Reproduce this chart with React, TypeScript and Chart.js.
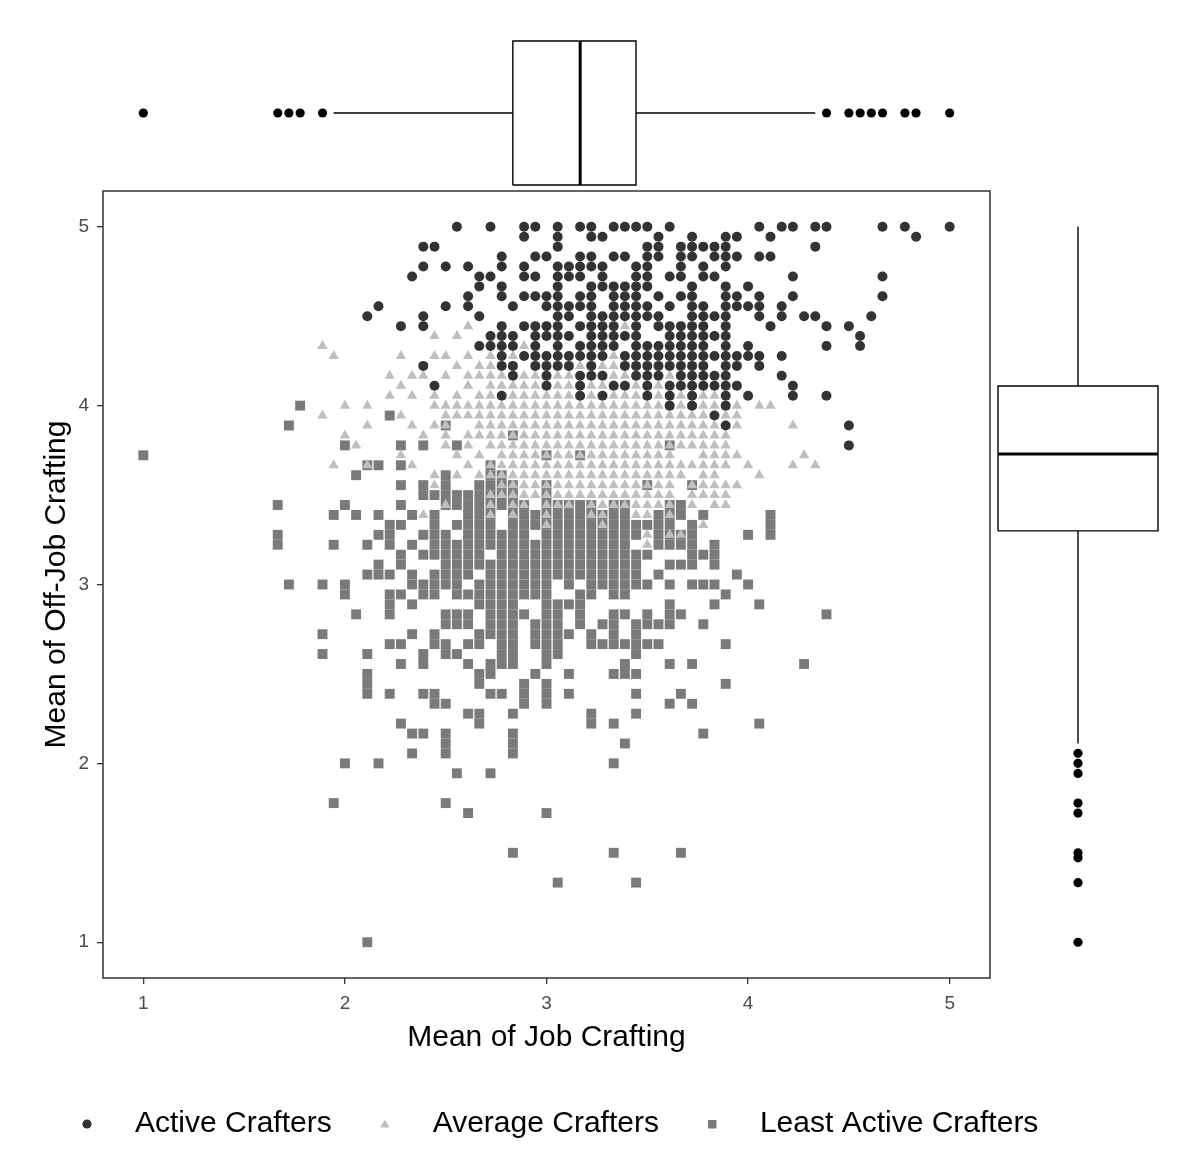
import { useEffect, useRef } from "react";
import Chart from "chart.js/auto";

const FONT = '"Liberation Sans", Arial, sans-serif';

// both scales are item means, so the scores sit on a grid of 1/18 point
const STEP = 1 / 18;

// Active Crafters: [row counted down from off-job = 5, columns counted up from job = 1]
const activeRows: [number, number[]][] = [
  [0, [28, 31, 34, 35, 37, 39, 40, 42, 43, 44, 45, 47, 55, 57, 58, 60, 61, 66, 68, 72]],
  [1, [34, 37, 40, 41, 46, 49, 52, 53, 56, 69]],
  [2, [25, 26, 37, 45, 46, 48, 49, 50, 51, 52, 60]],
  [3, [32, 35, 36, 39, 40, 42, 43, 45, 46, 48, 49, 51, 52, 53, 55, 56]],
  [4, [25, 27, 29, 32, 34, 37, 38, 39, 40, 41, 44, 45, 48, 50, 52]],
  [5, [24, 30, 31, 34, 35, 37, 38, 39, 41, 44, 45, 47, 48, 50, 51, 58, 66]],
  [6, [30, 32, 37, 40, 41, 42, 43, 44, 45, 49, 52, 54]],
  [7, [29, 32, 34, 35, 36, 37, 39, 40, 42, 43, 44, 46, 48, 49, 52, 53, 55, 58, 66]],
  [8, [21, 27, 29, 33, 36, 37, 38, 39, 40, 42, 43, 44, 45, 47, 49, 50, 52, 53, 54, 55, 57]],
  [9, [20, 25, 30, 37, 38, 40, 41, 42, 43, 44, 45, 46, 49, 50, 51, 52, 55, 57, 59, 60, 65]],
  [10, [23, 25, 32, 34, 35, 36, 37, 39, 40, 41, 42, 44, 46, 47, 48, 49, 50, 52, 56, 61, 63]],
  [11, [31, 32, 33, 35, 36, 37, 38, 40, 41, 42, 43, 44, 47, 48, 49, 50, 51, 52, 64]],
  [12, [30, 31, 32, 33, 35, 37, 39, 40, 41, 42, 44, 45, 46, 47, 48, 49, 50, 52, 54, 61, 64]],
  [13, [32, 34, 35, 36, 37, 38, 39, 40, 41, 43, 44, 45, 46, 47, 48, 49, 50, 51, 52, 53, 54, 55, 57]],
  [14, [25, 32, 33, 35, 36, 37, 38, 40, 43, 44, 45, 46, 47, 48, 49, 50, 52, 53, 55]],
  [15, [33, 36, 39, 40, 41, 44, 45, 46, 48, 49, 50, 51, 52, 57]],
  [16, [26, 36, 39, 42, 43, 45, 47, 48, 49, 50, 51, 52, 53, 58]],
  [17, [32, 39, 41, 45, 47, 49, 52, 54, 58, 61]],
  [18, [47, 49, 52]],
  [19, [51]],
  [20, [52, 63]],
  [22, [63]],
];

// Average Crafters, same layout as activeRows
const averageRows: [number, number[]][] = [
  [10, [29, 43]],
  [11, [26, 28]],
  [12, [16, 34, 39]],
  [13, [17, 23, 26, 27, 29, 31, 33, 42]],
  [14, [28, 30, 31, 33, 35, 38, 39, 41, 42]],
  [15, [22, 24, 25, 27, 29, 30, 31, 32, 34, 35, 36, 37, 38, 40, 41, 42, 43, 47]],
  [16, [23, 29, 31, 32, 33, 34, 35, 36, 37, 38, 39, 40, 41, 42, 43, 44, 45, 46, 47, 48, 49]],
  [17, [22, 24, 26, 28, 30, 31, 32, 33, 34, 35, 36, 37, 38, 39, 40, 41, 42, 43, 44, 45, 46, 47, 48, 49, 50, 51]],
  [18, [18, 20, 26, 27, 28, 29, 30, 31, 32, 33, 34, 35, 36, 37, 38, 39, 40, 41, 42, 43, 44, 45, 46, 47, 48, 49, 50, 51, 52, 53, 55, 56]],
  [19, [16, 23, 27, 28, 29, 30, 31, 32, 33, 34, 35, 36, 37, 38, 39, 40, 41, 42, 43, 44, 45, 46, 47, 48, 49, 50, 51, 52, 53]],
  [20, [20, 24, 26, 27, 30, 31, 32, 33, 34, 35, 36, 37, 38, 39, 40, 41, 42, 43, 44, 45, 46, 47, 48, 49, 50, 51, 52, 53, 58]],
  [21, [18, 25, 27, 29, 30, 31, 32, 33, 34, 35, 36, 37, 38, 39, 40, 41, 42, 43, 44, 45, 46, 47, 48, 49, 50, 51, 52]],
  [22, [19, 27, 29, 31, 32, 33, 34, 35, 36, 37, 38, 39, 40, 41, 42, 43, 44, 45, 46, 47, 48, 49, 50, 51, 52]],
  [23, [23, 28, 30, 32, 33, 34, 35, 36, 37, 38, 39, 40, 41, 42, 43, 44, 45, 46, 47, 50, 51, 52, 53, 59]],
  [24, [17, 20, 24, 29, 31, 32, 33, 34, 35, 36, 37, 38, 39, 40, 41, 42, 43, 44, 45, 46, 47, 48, 49, 50, 51, 52, 54, 58, 60]],
  [25, [26, 28, 30, 31, 32, 33, 34, 35, 36, 37, 38, 39, 40, 41, 42, 43, 44, 45, 46, 47, 48, 50, 51, 55]],
  [26, [26, 32, 33, 34, 35, 36, 37, 38, 39, 40, 41, 42, 43, 44, 45, 46, 47, 49, 50, 51, 52, 53]],
  [27, [31, 32, 33, 34, 35, 36, 37, 38, 39, 40, 41, 42, 43, 44, 45, 46, 47, 49, 50, 51, 52]],
  [28, [27, 31, 33, 34, 36, 37, 38, 40, 41, 42, 43, 44, 45, 46, 47, 49, 51, 52]],
  [29, [25, 31, 33, 36, 40, 41, 44, 45, 47]],
  [30, [36, 41, 50]],
  [31, [45, 47, 48]],
  [32, [45]],
];

// Least Active Crafters: [column, rows] - they stack in columns
const leastCols: [number, number[]][] = [
  [0, [23]],
  [12, [28, 31, 32]],
  [13, [20, 36]],
  [14, [18]],
  [16, [36, 41, 43]],
  [17, [29, 32, 58]],
  [18, [22, 28, 36, 37, 54]],
  [19, [25, 29, 39]],
  [20, [24, 32, 35, 43, 45, 46, 47, 72]],
  [21, [24, 29, 31, 34, 35, 54]],
  [22, [19, 30, 31, 32, 35, 37, 38, 39, 42, 47]],
  [23, [22, 24, 26, 28, 30, 33, 34, 37, 42, 44, 50]],
  [24, [29, 32, 35, 36, 38, 41, 51, 53]],
  [25, [22, 26, 27, 31, 33, 36, 37, 43, 44, 47, 51]],
  [26, [27, 29, 30, 31, 32, 33, 35, 36, 37, 41, 42, 47, 48]],
  [27, [20, 25, 26, 27, 28, 31, 32, 33, 34, 35, 36, 39, 40, 42, 43, 48, 51, 52, 53, 58]],
  [28, [22, 27, 28, 30, 32, 33, 34, 35, 36, 37, 39, 40, 43, 55]],
  [29, [27, 28, 29, 30, 31, 32, 33, 34, 35, 37, 39, 40, 42, 44, 49, 59]],
  [30, [26, 27, 28, 29, 30, 31, 32, 33, 34, 36, 37, 38, 41, 42, 45, 46, 49, 50]],
  [31, [24, 25, 26, 27, 28, 29, 30, 31, 32, 34, 35, 36, 37, 38, 39, 40, 41, 44, 45, 47, 55]],
  [32, [25, 26, 27, 28, 31, 32, 33, 34, 35, 36, 37, 38, 39, 40, 41, 42, 43, 44, 47]],
  [33, [21, 26, 27, 28, 29, 30, 31, 32, 33, 34, 35, 36, 37, 38, 39, 40, 41, 42, 43, 44, 49, 51, 52, 53, 63]],
  [34, [28, 29, 30, 31, 32, 33, 34, 35, 36, 37, 39, 46, 47, 48]],
  [35, [29, 30, 32, 33, 34, 35, 36, 37, 40, 41, 42, 45]],
  [36, [23, 26, 27, 28, 29, 30, 31, 32, 33, 34, 35, 36, 37, 38, 39, 40, 41, 42, 43, 44, 46, 47, 48, 59]],
  [37, [28, 29, 30, 31, 32, 33, 34, 35, 38, 39, 40, 41, 42, 43, 66]],
  [38, [28, 29, 30, 31, 32, 33, 34, 35, 36, 38, 41, 45, 47]],
  [39, [23, 28, 29, 30, 31, 32, 33, 34, 35, 37, 38, 39, 40]],
  [40, [28, 29, 30, 31, 32, 33, 34, 35, 36, 37, 41, 42, 49, 50]],
  [41, [29, 30, 31, 32, 33, 34, 35, 36, 40, 42]],
  [42, [28, 29, 30, 31, 32, 33, 34, 35, 36, 37, 39, 40, 41, 42, 45, 50, 54, 63]],
  [43, [28, 29, 30, 31, 32, 33, 34, 35, 36, 37, 39, 42, 44, 45, 52]],
  [44, [30, 31, 33, 34, 35, 36, 40, 41, 42, 43, 45, 47, 49, 66]],
  [45, [26, 30, 33, 36, 39, 40, 42]],
  [46, [29, 30, 31, 32, 35, 40, 42]],
  [47, [22, 28, 29, 30, 31, 32, 34, 36, 38, 39, 40, 44, 48]],
  [48, [28, 29, 31, 32, 34, 39, 47, 63]],
  [49, [26, 30, 31, 32, 33, 34, 36, 44, 48]],
  [50, [29, 33, 36, 40, 51]],
  [51, [32, 33, 34, 36, 38]],
  [52, [37, 42, 46]],
  [53, [35]],
  [54, [31, 36]],
  [55, [38, 50]],
  [56, [29, 30, 31]],
  [59, [44]],
  [61, [39]],
];

const xTicks = [1, 2, 3, 4, 5];
const yTicks = [1, 2, 3, 4, 5];

// lower whisker, q1, median, q3, upper whisker
const jobBox = [1.944, 2.833, 3.167, 3.444, 4.333];
const jobOutliers = [1.0, 1.667, 1.722, 1.778, 1.889, 4.389, 4.5, 4.556, 4.611, 4.667, 4.778, 4.833, 5.0];
const offJobBox = [2.111, 3.3, 3.73, 4.11, 5.0];
const offJobOutliers = [2.056, 2.0, 1.944, 1.778, 1.722, 1.5, 1.472, 1.333, 1.0];

const groupLabels = ["Active Crafters", "Average Crafters", "Least Active Crafters"];
const groupColors = ["#333333", "#bfbfbf", "#7a7a7a"];

const fromRows = (rows: [number, number[]][]) =>
  rows.flatMap(([j, cols]) => cols.map((i) => ({ x: 1 + i * STEP, y: 5 - j * STEP })));
const fromCols = (cols: [number, number[]][]) =>
  cols.flatMap(([i, rows]) => rows.map((j) => ({ x: 1 + i * STEP, y: 5 - j * STEP })));

const panelBorder = {
  id: "panelBorder",
  afterDraw(chart: any) {
    const { ctx, chartArea } = chart;
    ctx.save();
    ctx.strokeStyle = "#333333";
    ctx.lineWidth = 1.5;
    ctx.strokeRect(chartArea.left, chartArea.top, chartArea.right - chartArea.left, chartArea.bottom - chartArea.top);
    ctx.restore();
  },
};

function legendIcon(style: string, color: string) {
  const c = document.createElement("canvas");
  c.width = 14;
  c.height = 14;
  const g = c.getContext("2d")!;
  g.fillStyle = color;
  g.beginPath();
  if (style === "circle") g.arc(7, 7, 4.6, 0, Math.PI * 2);
  else if (style === "triangle") {
    g.moveTo(7, 2.5);
    g.lineTo(11.5, 10.5);
    g.lineTo(2.5, 10.5);
    g.closePath();
  } else g.rect(3, 3, 8.5, 8.5);
  g.fill();
  return c;
}

const seg = (pts: { x: number; y: number }[], width = 1.4) => ({
  data: pts,
  showLine: true,
  borderColor: "#000000",
  borderWidth: width,
  borderJoinStyle: "miter",
  pointRadius: 0,
  fill: false,
  clip: false,
});

const App = () => {
  const mainRef = useRef<any>(null);
  const topRef = useRef<any>(null);
  const rightRef = useRef<any>(null);

  useEffect(() => {
    const styles = ["circle", "triangle", "rect"];
    const icons = styles.map((s, i) => legendIcon(s, groupColors[i]));
    const tickFont = { family: FONT, size: 19 };
    const titleFont = { family: FONT, size: 30 };

    const main = new Chart(mainRef.current, {
      type: "scatter",
      data: {
        datasets: [
          { label: groupLabels[0], data: fromRows(activeRows), pointStyle: "circle", pointRadius: 5, backgroundColor: groupColors[0], borderWidth: 0 },
          { label: groupLabels[1], data: fromRows(averageRows), pointStyle: "triangle", pointRadius: 6, backgroundColor: groupColors[1], borderWidth: 0 },
          { label: groupLabels[2], data: fromCols(leastCols), pointStyle: "rect", pointRadius: 7, backgroundColor: groupColors[2], borderWidth: 0 },
        ],
      },
      options: {
        responsive: false,
        animation: false,
        events: [],
        layout: { padding: { top: 5, left: 0, right: 0, bottom: 0 }, autoPadding: false },
        scales: {
          x: {
            type: "linear",
            min: 0.8,
            max: 5.2,
            afterBuildTicks: (s: any) => { s.ticks = xTicks.map((v) => ({ value: v })); },
            afterFit: (s: any) => { s.height = 111; s.paddingLeft = 0; s.paddingRight = 0; },
            grid: { drawOnChartArea: false, drawTicks: true, tickLength: 6, color: "#333333", lineWidth: 1.3 },
            border: { display: false },
            ticks: { color: "#4d4d4d", font: tickFont, padding: 8 },
            title: { display: true, text: "Mean of Job Crafting", color: "#000000", font: titleFont, padding: { top: 0, bottom: 33 } },
          },
          y: {
            type: "linear",
            min: 0.8,
            max: 5.2,
            afterBuildTicks: (s: any) => { s.ticks = yTicks.map((v) => ({ value: v })); },
            afterFit: (s: any) => { s.width = 69; s.paddingTop = 0; s.paddingBottom = 0; },
            grid: { drawOnChartArea: false, drawTicks: true, tickLength: 6, color: "#333333", lineWidth: 1.3 },
            border: { display: false },
            ticks: { color: "#4d4d4d", font: tickFont, padding: 8 },
            title: { display: true, text: "Mean of Off-Job Crafting", color: "#000000", font: titleFont, padding: { top: 5, bottom: 0 } },
          },
          // keeps room on the right for the marginal box plot
          gap: {
            type: "linear",
            position: "right",
            grid: { display: false },
            border: { display: false },
            ticks: { display: false },
            afterFit: (s: any) => { s.width = 210; s.paddingTop = 0; s.paddingBottom = 0; },
          },
        },
        plugins: {
          tooltip: { enabled: false },
          legend: {
            position: "bottom",
            align: "start",
            labels: {
              usePointStyle: true,
              pointStyleWidth: 66,
              padding: 20,
              color: "#000000",
              font: titleFont,
              generateLabels: (chart: any) =>
                chart.data.datasets.map((ds: any, i: number) => ({
                  text: ds.label,
                  pointStyle: icons[i],
                  fillStyle: groupColors[i],
                  strokeStyle: groupColors[i],
                  lineWidth: 0,
                  hidden: false,
                  datasetIndex: i,
                })),
            },
          },
        },
      } as any,
      plugins: [panelBorder],
    });

    const [jLo, jQ1, jMed, jQ3, jHi] = jobBox;
    const bh = 0.847;
    const top = new Chart(topRef.current, {
      type: "scatter",
      data: {
        datasets: [
          seg([{ x: jLo, y: 0 }, { x: jQ1, y: 0 }]),
          seg([{ x: jQ3, y: 0 }, { x: jHi, y: 0 }]),
          seg([{ x: jQ1, y: -bh }, { x: jQ3, y: -bh }, { x: jQ3, y: bh }, { x: jQ1, y: bh }, { x: jQ1, y: -bh }]),
          seg([{ x: jMed, y: -bh }, { x: jMed, y: bh }], 3),
          { data: jobOutliers.map((v) => ({ x: v, y: 0 })), pointRadius: 4.6, backgroundColor: "#000000", borderWidth: 0, clip: false },
        ] as any,
      },
      options: {
        responsive: false,
        animation: false,
        events: [],
        layout: { padding: 0, autoPadding: false },
        scales: {
          x: { type: "linear", display: false, min: 0.8, max: 5.2 },
          y: { type: "linear", display: false, min: -1, max: 1 },
        },
        plugins: { legend: { display: false }, tooltip: { enabled: false } },
      } as any,
    });

    const [oLo, oQ1, oMed, oQ3, oHi] = offJobBox;
    const bw = 0.941;
    const right = new Chart(rightRef.current, {
      type: "scatter",
      data: {
        datasets: [
          seg([{ x: 0, y: oLo }, { x: 0, y: oQ1 }]),
          seg([{ x: 0, y: oQ3 }, { x: 0, y: oHi }]),
          seg([{ x: -bw, y: oQ1 }, { x: bw, y: oQ1 }, { x: bw, y: oQ3 }, { x: -bw, y: oQ3 }, { x: -bw, y: oQ1 }]),
          seg([{ x: -bw, y: oMed }, { x: bw, y: oMed }], 3),
          { data: offJobOutliers.map((v) => ({ x: 0, y: v })), pointRadius: 4.6, backgroundColor: "#000000", borderWidth: 0, clip: false },
        ] as any,
      },
      options: {
        responsive: false,
        animation: false,
        events: [],
        layout: { padding: 0, autoPadding: false },
        scales: {
          x: { type: "linear", display: false, min: -1, max: 1 },
          y: { type: "linear", display: false, min: 0.8, max: 5.2 },
        },
        plugins: { legend: { display: false }, tooltip: { enabled: false } },
      } as any,
    });

    return () => {
      main.destroy();
      top.destroy();
      right.destroy();
    };
  }, []);

  return (
    <div style={{ position: "absolute", left: 0, top: 0, width: 1200, height: 1175, background: "#ffffff", overflow: "hidden" }}>
      <canvas ref={mainRef} width={1166} height={963} style={{ position: "absolute", left: 34, top: 186 }} />
      <canvas ref={topRef} width={887} height={170} style={{ position: "absolute", left: 103, top: 28 }} />
      <canvas ref={rightRef} width={170} height={787} style={{ position: "absolute", left: 993, top: 191 }} />
    </div>
  );
};

export default App;
